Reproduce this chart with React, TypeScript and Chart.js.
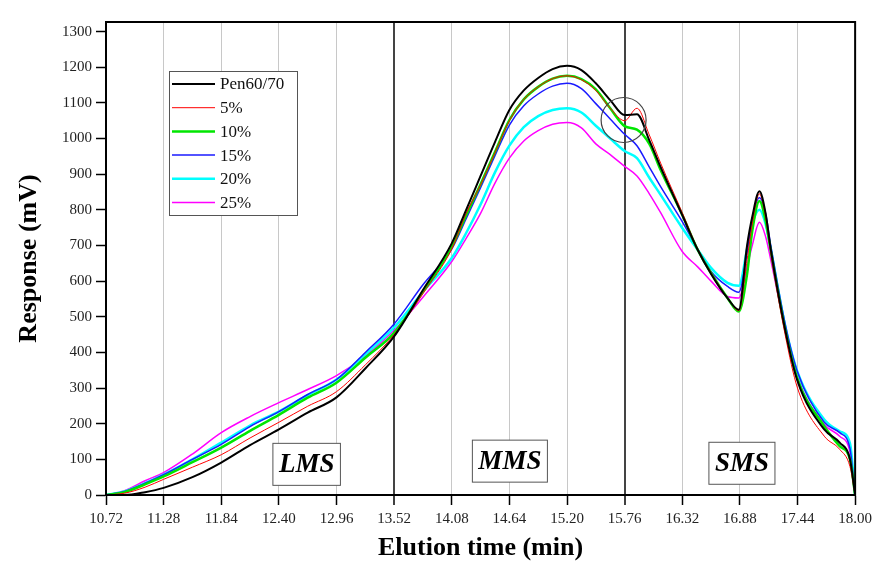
import { useEffect, useRef } from "react";
import { Chart, registerables } from "chart.js";

Chart.register(...registerables);

// Elution times (min) at which the curves were read
const times = [
  10.72, 10.9, 11.1, 11.28, 11.56, 11.84, 12.12, 12.4, 12.68, 12.96, 13.24, 13.52, 13.8, 14.08,
  14.22, 14.36, 14.5, 14.64, 14.78, 14.92, 15.06, 15.2, 15.34, 15.48, 15.62, 15.76,
  15.88, 16.0, 16.11, 16.32, 16.47, 16.6, 16.76, 16.87, 16.95, 17.0, 17.07, 17.13, 17.18, 17.32,
  17.44, 17.7, 17.85, 17.95, 18.0,
];

const pen6070 = [
  0, 0, 8, 20, 50, 91, 140, 184, 231, 274, 355, 445, 575, 706,
  800, 895, 990, 1080, 1135, 1170, 1195, 1204, 1192, 1155, 1108, 1066,
  1068, 995, 920, 785, 688, 620, 552, 520, 700, 780, 852, 790, 690, 464,
  320, 184, 147, 100, 0,
];
const p5 = [
  0, 5, 22, 44, 78, 113, 160, 204, 249, 290, 365, 450, 565, 690,
  790, 870, 960, 1050, 1110, 1145, 1168, 1176, 1165, 1135, 1085, 1050,
  1085, 1010, 931, 792, 690, 623, 553, 517, 660, 760, 845, 780, 680, 450,
  300, 165, 128, 80, 0,
];
const p10 = [
  0, 8, 30, 52, 92, 133, 180, 225, 273, 315, 385, 455, 570, 695,
  785, 872, 962, 1052, 1110, 1145, 1168, 1176, 1167, 1138, 1085, 1035,
  1025, 985, 912, 786, 688, 623, 553, 515, 620, 740, 825, 770, 685, 464,
  325, 193, 137, 100, 0,
];
const p15 = [
  0, 10, 33, 57, 100, 142, 192, 234, 282, 324, 400, 480, 590, 690,
  775, 862, 952, 1038, 1092, 1125, 1147, 1155, 1140, 1098, 1055, 1012,
  980, 920, 865, 767, 690, 627, 585, 569, 680, 775, 834, 790, 700, 480,
  345, 204, 175, 130, 0,
];
const p20 = [
  0, 10, 33, 57, 100, 147, 195, 234, 280, 324, 395, 470, 570, 665,
  735, 815, 905, 980, 1032, 1063, 1080, 1085, 1073, 1036, 1000, 965,
  945, 890, 842, 749, 688, 637, 595, 587, 690, 760, 800, 760, 690, 475,
  345, 212, 179, 145, 0,
];
const p25 = [
  0, 12, 40, 63, 115, 175, 220, 259, 296, 335, 390, 462, 555, 655,
  720, 790, 875, 945, 993, 1022, 1040, 1045, 1030, 985, 955, 922,
  895, 845, 792, 683, 640, 600, 557, 553, 640, 700, 765, 725, 660, 465,
  330, 198, 165, 120, 0,
];

const seriesLabels = ["Pen60/70", "5%", "10%", "15%", "20%", "25%"];
const seriesValues = [pen6070, p5, p10, p15, p20, p25];
const seriesColors = ["#000000", "#ff0000", "#00e600", "#1a1aff", "#00ffff", "#ff00ff"];
const seriesWidths = [2, 1, 2.5, 1.5, 2.5, 1.5];

const xTickValues = [
  10.72, 11.28, 11.84, 12.4, 12.96, 13.52, 14.08, 14.64, 15.2, 15.76, 16.32, 16.88, 17.44, 18.0,
];
const yTickValues = [0, 100, 200, 300, 400, 500, 600, 700, 800, 900, 1000, 1100, 1200, 1300];
const regionDividers = [13.52, 15.76];
const regionNames = ["LMS", "MMS", "SMS"];
const regionLabelX = [12.67, 14.645, 16.9];
const regionLabelY = [86, 95, 89];
const shoulderMark = { x: 15.75, y: 1052 };

const SERIF = '"Liberation Serif", "Times New Roman", serif';

const annotationPlugin = {
  id: "annotations",
  afterDatasetsDraw(chart: any) {
    const { ctx, chartArea, scales } = chart;
    const { left, right, top, bottom } = chartArea;
    const xs = scales.x;
    const ys = scales.y;
    ctx.save();

    // frame
    ctx.strokeStyle = "#000";
    ctx.lineWidth = 2;
    ctx.strokeRect(left, top, right - left, bottom - top);

    // circle around shoulder
    ctx.beginPath();
    ctx.strokeStyle = "#444";
    ctx.lineWidth = 1.2;
    ctx.arc(xs.getPixelForValue(shoulderMark.x), ys.getPixelForValue(shoulderMark.y), 22.5, 0, Math.PI * 2);
    ctx.stroke();

    // region labels
    ctx.font = `italic bold 27px ${SERIF}`;
    ctx.textAlign = "center";
    ctx.textBaseline = "middle";
    regionNames.forEach((name, i) => {
      const cx = xs.getPixelForValue(regionLabelX[i]);
      const cy = ys.getPixelForValue(regionLabelY[i]);
      const w = ctx.measureText(name).width + 12;
      const h = 42;
      ctx.fillStyle = "#fff";
      ctx.fillRect(cx - w / 2, cy - h / 2, w, h);
      ctx.strokeStyle = "#555";
      ctx.lineWidth = 1;
      ctx.strokeRect(cx - w / 2, cy - h / 2, w, h);
      ctx.fillStyle = "#000";
      ctx.fillText(name, cx, cy + 1);
    });

    // legend
    const lx = 169, ly = 71, lw = 128, lh = 144;
    ctx.fillStyle = "#fff";
    ctx.fillRect(lx, ly, lw, lh);
    ctx.strokeStyle = "#555";
    ctx.lineWidth = 1;
    ctx.strokeRect(lx + 0.5, ly + 0.5, lw, lh);
    ctx.font = `17px ${SERIF}`;
    ctx.textAlign = "left";
    ctx.textBaseline = "middle";
    chart.data.datasets.forEach((ds: any, i: number) => {
      const yy = ly + 13 + i * 23.7;
      ctx.beginPath();
      ctx.strokeStyle = ds.borderColor;
      ctx.lineWidth = ds.borderWidth;
      ctx.moveTo(lx + 3, yy);
      ctx.lineTo(lx + 46, yy);
      ctx.stroke();
      ctx.fillStyle = "#111";
      ctx.fillText(ds.label, lx + 51, yy + 1);
    });

    ctx.restore();
  },
};

export default function App() {
  const canvasRef = useRef<HTMLCanvasElement | null>(null);

  useEffect(() => {
    if (!canvasRef.current) return;
    const datasets = seriesLabels.map((label, i) => ({
      label,
      data: times.map((t, j) => ({ x: t, y: seriesValues[i][j] })),
      borderColor: seriesColors[i],
      backgroundColor: seriesColors[i],
      borderWidth: seriesWidths[i],
      pointRadius: 0,
      cubicInterpolationMode: "monotone" as const,
      fill: false,
    }));

    const chart = new Chart(canvasRef.current, {
      type: "line",
      data: { datasets },
      plugins: [annotationPlugin],
      options: {
        animation: false,
        responsive: false,
        layout: { padding: { left: 0, top: 22, right: 19, bottom: 0 } },
        plugins: { legend: { display: false }, tooltip: { enabled: false } },
        scales: {
          x: {
            type: "linear",
            min: 10.72,
            max: 18.0,
            afterBuildTicks: (scale: any) => {
              scale.ticks = xTickValues.map((v) => ({ value: v }));
            },
            afterFit: (scale: any) => {
              scale.height = 71;
            },
            ticks: {
              autoSkip: false,
              maxRotation: 0,
              padding: 5,
              color: "#222",
              font: { family: SERIF, size: 15 },
              callback: (v: any) => Number(v).toFixed(2),
            },
            grid: {
              drawTicks: true,
              tickLength: 10,
              tickColor: "#000",
              tickWidth: 1.5,
              color: (c: any) =>
                regionDividers.some((d) => Math.abs(c.tick?.value - d) < 1e-6) ? "#444" : "#c8c8c8",
              lineWidth: (c: any) =>
                regionDividers.some((d) => Math.abs(c.tick?.value - d) < 1e-6) ? 2 : 1,
            },
            border: { display: true, color: "#000", width: 2 },
            title: {
              display: true,
              text: "Elution time (min)",
              color: "#000",
              font: { family: SERIF, size: 26, weight: "bold" },
              padding: { top: 0, bottom: 2 },
            },
          },
          y: {
            type: "linear",
            min: 0,
            max: 1327,
            afterBuildTicks: (scale: any) => {
              scale.ticks = yTickValues.map((v) => ({ value: v }));
            },
            afterFit: (scale: any) => {
              scale.width = 106;
            },
            ticks: {
              padding: 4,
              color: "#222",
              font: { family: SERIF, size: 15 },
              callback: (v: any) => String(v),
            },
            grid: {
              drawOnChartArea: false,
              drawTicks: true,
              tickLength: 10,
              tickColor: "#000",
              tickWidth: 1.5,
            },
            border: { display: true, color: "#000", width: 2 },
            title: {
              display: true,
              text: "Response (mV)",
              color: "#000",
              font: { family: SERIF, size: 26, weight: "bold" },
              padding: { top: 14, bottom: 0 },
            },
          },
        },
      } as any,
    });
    return () => chart.destroy();
  }, []);

  return (
    <div style={{ position: "absolute", left: 0, top: 0, width: 877, height: 566, background: "#fff" }}>
      <canvas ref={canvasRef} width={877} height={566} style={{ display: "block" }} />
    </div>
  );
}
